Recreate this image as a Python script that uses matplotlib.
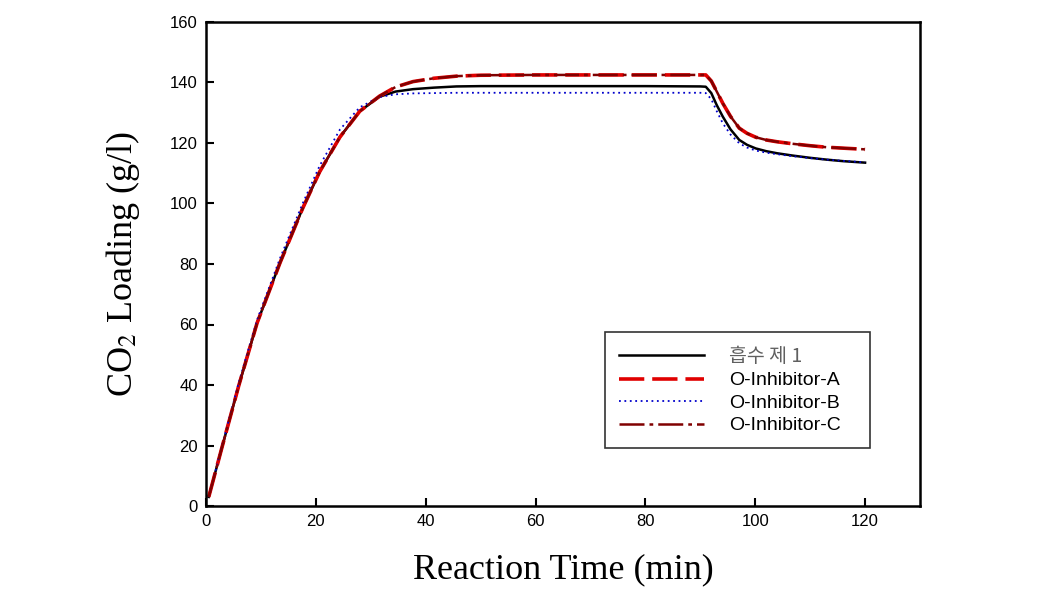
import matplotlib
matplotlib.use("Agg")
import matplotlib.pyplot as plt

t = [0.5, 3, 6, 9.3, 13.5, 17.6, 20.7, 24.4, 28, 31.6, 34.5, 37.7, 41.5, 45.6, 50, 60, 70, 80, 90, 91,
     92, 93, 94.1, 95.5, 97.1, 98.5, 100.1, 102, 104, 107, 110, 113, 116, 120]

absorbent1 = [3, 20, 40, 60.5, 80.5, 98.4, 110.5, 122, 130.5, 135.3, 137, 137.8, 138.3, 138.7, 138.8, 138.8, 138.8, 138.8, 138.7, 138.6,
              136.5, 132.5, 128.7, 124.5, 121, 119.4, 118.2, 117.3, 116.6, 115.8, 115.1, 114.5, 114, 113.5]
inhibitor_a = [3, 20, 40, 60.5, 80.5, 98.4, 110.5, 122, 130.5, 135.5, 138.5, 140.3, 141.4, 142.1, 142.4, 142.5, 142.5, 142.5, 142.5, 142.5,
               140.5, 137, 133.1, 128.8, 124.9, 123.2, 121.9, 121, 120.4, 119.7, 119.1, 118.6, 118.3, 117.9]
inhibitor_b = [3, 20.5, 41, 61.5, 82, 100, 112.5, 124.5, 131.8, 135.2, 136.1, 136.4, 136.5, 136.6, 136.6, 136.6, 136.6, 136.6, 136.6, 136.5,
               134.5, 130.5, 126.5, 122.8, 119.9, 118.5, 117.5, 116.8, 116.3, 115.6, 115, 114.5, 114.1, 113.6]
inhibitor_c = [3, 20, 40, 60.5, 80.5, 98.4, 110.5, 122, 130.5, 135.5, 138.5, 140.3, 141.4, 142.1, 142.4, 142.5, 142.5, 142.5, 142.5, 142.5,
               140.5, 137, 133.1, 128.8, 124.9, 123.2, 121.9, 121, 120.4, 119.7, 119.1, 118.6, 118.3, 117.9]

labels = ["흡수 제 1", "O-Inhibitor-A", "O-Inhibitor-B", "O-Inhibitor-C"]
xticks = [0, 20, 40, 60, 80, 100, 120]
yticks = [0, 20, 40, 60, 80, 100, 120, 140, 160]

plt.rcParams['font.family'] = ['Liberation Sans', 'Noto Sans CJK KR', 'DejaVu Sans']
plt.rcParams['mathtext.fontset'] = 'stix'

fig = plt.figure(figsize=(10.54, 6.06), dpi=100)
ax = fig.add_axes([206/1054, 100/606, 714/1054, 484/606])

ax.plot(t, absorbent1, color='black', lw=1.8, ls='-', label=labels[0])
ax.plot(t, inhibitor_a, color='#e00000', lw=2.6, ls=(0, (7, 2.2)), label=labels[1])
ax.plot(t, inhibitor_b, color='#0000cc', lw=1.3, ls=(0, (1, 2)), label=labels[2])
ax.plot(t, inhibitor_c, color='#800000', lw=1.8, ls=(0, (10, 2, 1.5, 2)), label=labels[3])

ax.set_xlim(0, 130)
ax.set_ylim(0, 160)
ax.set_xticks(xticks)
ax.set_yticks(yticks)
ax.tick_params(direction='in', length=6, width=1.5, labelsize=12, top=False, right=False, pad=6)
for s in ax.spines.values():
    s.set_linewidth(1.8)

ax.set_xlabel('Reaction Time (min)', family='Liberation Serif', fontsize=26, labelpad=17)
ax.set_ylabel('CO$_2$ Loading (g/l)', family='Liberation Serif', fontsize=26, labelpad=20)

leg = ax.legend(loc='lower left', bbox_to_anchor=(605/1054, 158/606, 265/1054, 115/606),
                bbox_transform=fig.transFigure, mode='expand',
                frameon=True, fancybox=False, edgecolor='black', fontsize=14, handlelength=4.4,
                handletextpad=1.3, borderpad=0.7, labelspacing=0.25, borderaxespad=0)
leg.get_frame().set_linewidth(1.2)
leg.get_texts()[0].set_color('#606060')
leg.get_texts()[0].set_family(['Noto Sans CJK KR', 'DejaVu Sans'])

fig.savefig('out.png', dpi=100)
